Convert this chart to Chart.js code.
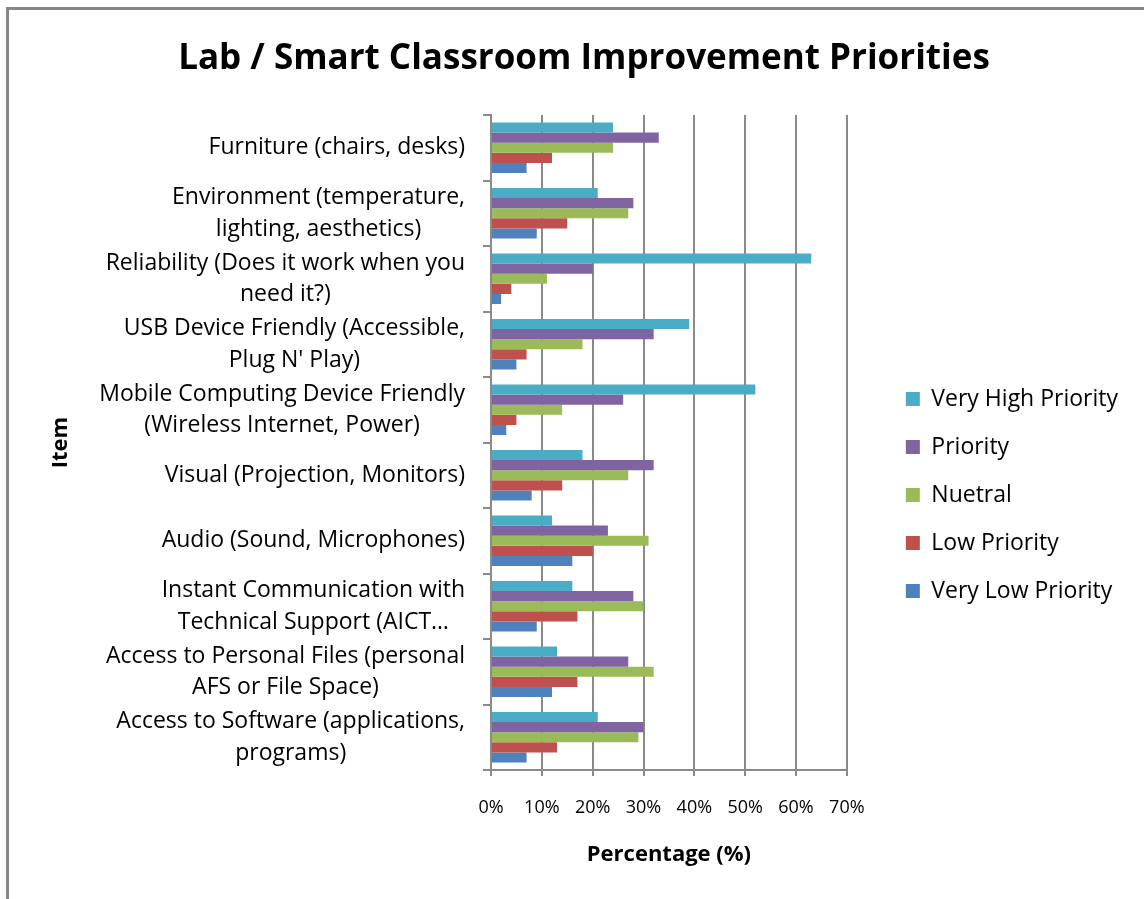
<!DOCTYPE html>
<html>
<head>
<meta charset="utf-8">
<script src="https://cdn.jsdelivr.net/npm/chart.js@4.4.1/dist/chart.umd.min.js"></script>
<style>
  html, body { margin: 0; padding: 0; background: #fff; }
  #frame { position: absolute; left: 6px; top: 7px; width: 1144px; height: 899px;
           border-top: 3px solid #878787; border-left: 3px solid #878787; box-sizing: border-box; }
  #wrap { position: absolute; left: 0; top: 0; width: 1144px; height: 899px; }
</style>
</head>
<body>
<div id="frame"></div>
<div id="wrap"><canvas id="chart" width="1144" height="899"></canvas></div>
<script>
// Chart data
const categories = [
  'Furniture (chairs, desks)',
  ['Environment (temperature,', 'lighting, aesthetics)'],
  ['Reliability (Does it work when you', 'need it?)'],
  ['USB Device Friendly (Accessible,', "Plug N' Play)"],
  ['Mobile Computing Device Friendly', '(Wireless Internet, Power)'],
  'Visual (Projection, Monitors)',
  'Audio (Sound, Microphones)',
  ['Instant Communication with', 'Technical Support (AICT…'],
  ['Access to Personal Files (personal', 'AFS or File Space)'],
  ['Access to Software (applications,', 'programs)']
];
const seriesNames = ['Very High Priority', 'Priority', 'Nuetral', 'Low Priority', 'Very Low Priority'];
const veryHigh = [24, 21, 63, 39, 52, 18, 12, 16, 13, 21];
const priority = [33, 28, 20, 32, 26, 32, 23, 28, 27, 30];
const neutral  = [24, 27, 11, 18, 14, 27, 31, 30, 32, 29];
const low      = [12, 15, 4, 7, 5, 14, 20, 17, 17, 13];
const veryLow  = [7, 9, 2, 5, 3, 8, 16, 9, 12, 7];
const xTicks = [0, 10, 20, 30, 40, 50, 60, 70];

const colors = ['#4BACC6', '#8064A2', '#9BBB59', '#C0504D', '#4F81BD'];
const FONT = '"Open Sans", Lato, sans-serif';
const gridGray = '#8a8a8a';

// Draw y labels ourselves: block right aligned, lines centered in block
const yLabelPlugin = {
  id: 'yLabels',
  afterDraw(chart) {
    const scale = chart.scales.y;
    const ctx = chart.ctx;
    ctx.save();
    ctx.font = '23px ' + FONT;
    ctx.fillStyle = '#000';
    ctx.textAlign = 'center';
    ctx.textBaseline = 'middle';
    const lh = 31.5;
    const right = scale.right - 26;
    categories.forEach((lab, i) => {
      const lines = Array.isArray(lab) ? lab : [lab];
      const w = Math.max(...lines.map(l => ctx.measureText(l).width));
      const cy = scale.getPixelForValue(i);
      const y0 = cy - (lines.length - 1) * lh / 2;
      lines.forEach((l, j) => ctx.fillText(l, right - w / 2, y0 + j * lh));
    });
    ctx.restore();
  }
};

// Push the legend to the right and down a bit like the original
const legendShift = {
  id: 'legendShift',
  beforeInit(chart) {
    const lg = chart.legend;
    if (!lg) return;
    const fit = lg.fit;
    lg.fit = function () { fit.call(this); this.width += 30; };
  },
  afterLayout(chart) {
    const lg = chart.legend;
    lg.left += 34; lg.right += 34;
    lg.top += 59; lg.bottom += 59;
  }
};

const ctx = document.getElementById('chart').getContext('2d');
new Chart(ctx, {
  type: 'bar',
  data: {
    labels: categories,
    datasets: [veryHigh, priority, neutral, low, veryLow].map((d, i) => ({
      label: seriesNames[i],
      data: d,
      backgroundColor: colors[i],
      borderWidth: 0,
      categoryPercentage: 0.77,
      barPercentage: 1.0
    }))
  },
  options: {
    indexAxis: 'y',
    responsive: false,
    animation: false,
    layout: { padding: { left: 44, right: 20, top: 0, bottom: 27 } },
    plugins: {
      title: {
        display: true,
        text: 'Lab / Smart Classroom Improvement Priorities',
        color: '#000',
        font: { family: FONT, size: 35, weight: 'bold' },
        padding: { top: 38, bottom: 35 }
      },
      legend: {
        position: 'right',
        labels: {
          boxWidth: 14,
          boxHeight: 14,
          padding: 25,
          color: '#000',
          font: { family: FONT, size: 23 }
        }
      },
      tooltip: { enabled: false }
    },
    scales: {
      x: {
        min: 0,
        max: 70,
        afterBuildTicks: s => { s.ticks = xTicks.map(v => ({ value: v })); },
        ticks: {
          callback: v => v + '%',
          color: '#000',
          padding: 21,
          font: { family: FONT, size: 18 }
        },
        grid: { color: gridGray, lineWidth: 2, tickLength: 6 },
        border: { color: gridGray, width: 2 },
        title: {
          display: true,
          text: 'Percentage (%)',
          color: '#000',
          font: { family: FONT, size: 22, weight: 'bold' },
          padding: { top: 2, bottom: 4 }
        }
      },
      y: {
        afterFit: s => { s.width = 447; },
        ticks: {
          autoSkip: false,
          color: 'rgba(0,0,0,0)',
          padding: 18,
          font: { family: FONT, size: 20, lineHeight: 1.5 }
        },
        grid: { drawOnChartArea: false, color: gridGray, lineWidth: 2, tickLength: 8 },
        border: { color: gridGray, width: 2 },
        title: {
          display: true,
          text: 'Item',
          color: '#000',
          font: { family: FONT, size: 22, weight: 'bold' },
          padding: { top: 4, bottom: 10 }
        }
      }
    }
  },
  plugins: [yLabelPlugin, legendShift]
});
</script>
</body>
</html>
